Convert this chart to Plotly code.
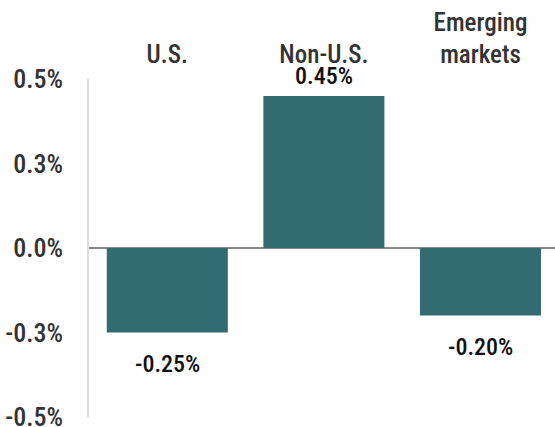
import plotly.graph_objects as go

categories = ["U.S.", "Non-U.S.", "Emerging<br>markets"]
values = [-0.25, 0.45, -0.20]
value_labels = ["-0.25%", "0.45%", "-0.20%"]
tick_values = [0.5, 0.25, 0.0, -0.25, -0.5]
tick_labels = ["0.5%", "0.3%", "0.0%", "-0.3%", "-0.5%"]

FONT = "Liberation Sans Narrow, Roboto Condensed, Arial Narrow, sans-serif"
BAR = "#336b73"
W = 500

fig = go.Figure()
fig.add_trace(go.Bar(
    x=list(range(len(categories))), y=values,
    marker=dict(color=BAR, line=dict(width=0)),
    width=0.773, hoverinfo="skip",
))

for i, (v, lab) in enumerate(zip(values, value_labels)):
    fig.add_annotation(
        x=i, y=v, text=lab, showarrow=False,
        yanchor="bottom" if v >= 0 else "top",
        yshift=4 if v >= 0 else -15,
        font=dict(family=FONT, size=24, color="#111111", weight=W),
    )

fig.update_layout(
    width=555, height=427,
    margin=dict(l=89, r=0, t=79, b=10, autoexpand=False),
    plot_bgcolor="white", paper_bgcolor="white",
    showlegend=False,
    font=dict(family=FONT, color="#333333"),
    xaxis=dict(
        side="top", range=[-0.5, 2.476], automargin=False,
        tickvals=list(range(len(categories))), ticktext=categories,
        tickfont=dict(family=FONT, size=25, color="#333333", weight=W),
        showgrid=False, showline=False, zeroline=False, ticks="",
        ticklabelstandoff=10,
    ),
    yaxis=dict(
        range=[-0.5, 0.5], automargin=False,
        tickvals=tick_values, ticktext=tick_labels,
        tickfont=dict(family=FONT, size=26, color="#333333", weight=W),
        showgrid=False, showline=True, linecolor="#dddddd", linewidth=1.5,
        zeroline=True, zerolinecolor="#888888", zerolinewidth=2,
        ticks="", ticklabelstandoff=19, ticklabeloverflow="allow",
    ),
)

fig.write_html(
    "out.html",
    config={"displayModeBar": False},
    post_script="document.body.style.margin='0';document.body.style.overflow='hidden';",
)
